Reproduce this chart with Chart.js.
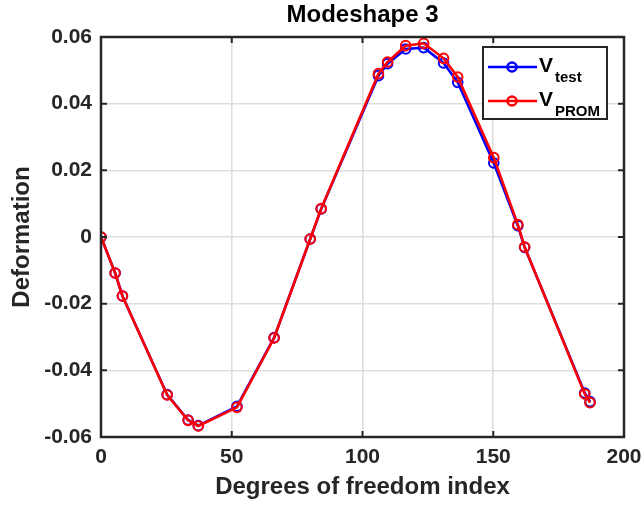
<!DOCTYPE html>
<html>
<head>
<meta charset="utf-8">
<script src="https://cdn.jsdelivr.net/npm/chart.js@4"></script>
<style>
  html, body { margin: 0; padding: 0; background: #fff; }
  #wrap { width: 644px; height: 511px; }
</style>
</head>
<body>
<div id="wrap"><canvas id="chart" width="644" height="511"></canvas></div>
<script>
// degrees of freedom index (x) and deformations
const dofIndex = [0, 5.4, 8.2, 25.3, 33.3, 37.2, 52, 66.2, 80, 84.2, 106.1, 109.6, 116.5, 123.4, 131, 136.4, 150.2, 159.4, 162, 185, 187];
const vTest = [0, -0.0108, -0.0177, -0.0473, -0.0549, -0.0566, -0.0508, -0.0302, -0.0006, 0.0084, 0.0484, 0.0520, 0.0564, 0.0568, 0.0522, 0.0464, 0.0222, 0.0034, -0.0031, -0.0468, -0.0494];
const vProm = [0, -0.0108, -0.0177, -0.0474, -0.0550, -0.0567, -0.0511, -0.0303, -0.0006, 0.0085, 0.0490, 0.0525, 0.0574, 0.0581, 0.0536, 0.0480, 0.0238, 0.0037, -0.0030, -0.0471, -0.0497];
const xTicks = [0, 50, 100, 150, 200];
const yTicks = [-0.06, -0.04, -0.02, 0, 0.02, 0.04, 0.06];
const yTickLabels = ['-0.06', '-0.04', '-0.02', '0', '0.02', '0.04', '0.06'];

const toPoints = ys => dofIndex.map((x, i) => ({ x: x, y: ys[i] }));
const FONT = 'Liberation Sans, Arial, sans-serif';
const TEXT = '#262626';

const matlabAxes = {
  id: 'matlabAxes',
  afterDraw(chart) {
    const ctx = chart.ctx;
    const a = chart.chartArea;
    const xs = chart.scales.x, ys = chart.scales.y;
    ctx.save();
    // inward ticks
    ctx.strokeStyle = TEXT;
    ctx.lineWidth = 2;
    ctx.beginPath();
    xTicks.forEach(v => {
      const px = xs.getPixelForValue(v);
      ctx.moveTo(px, a.bottom); ctx.lineTo(px, a.bottom - 6);
      ctx.moveTo(px, a.top); ctx.lineTo(px, a.top + 6);
    });
    yTicks.forEach(v => {
      const py = ys.getPixelForValue(v);
      ctx.moveTo(a.left, py); ctx.lineTo(a.left + 6, py);
      ctx.moveTo(a.right, py); ctx.lineTo(a.right - 6, py);
    });
    ctx.stroke();
    // box
    ctx.lineWidth = 2.5;
    ctx.strokeRect(a.left, a.top, a.right - a.left, a.bottom - a.top);

    // title and axis titles
    ctx.fillStyle = '#000';
    ctx.font = 'bold 24px ' + FONT;
    ctx.textAlign = 'center';
    ctx.textBaseline = 'middle';
    ctx.fillText('Modeshape 3', (a.left + a.right) / 2, 15);
    ctx.fillStyle = TEXT;
    ctx.fillText('Degrees of freedom index', (a.left + a.right) / 2, 487);
    ctx.save();
    ctx.translate(22, (a.top + a.bottom) / 2);
    ctx.rotate(-Math.PI / 2);
    ctx.fillText('Deformation', 0, 0);
    ctx.restore();

    // legend
    const lx = 483, ly = 47, lw = 124, lh = 72;
    ctx.fillStyle = '#fff';
    ctx.fillRect(lx, ly, lw, lh);
    ctx.strokeStyle = TEXT;
    ctx.lineWidth = 2;
    ctx.strokeRect(lx, ly, lw, lh);
    const items = [
      { color: '#0000ff', sub: 'test', y: 67 },
      { color: '#ff0000', sub: 'PROM', y: 101 }
    ];
    items.forEach(it => {
      ctx.strokeStyle = it.color;
      ctx.lineWidth = 2.5;
      ctx.beginPath();
      ctx.moveTo(488, it.y); ctx.lineTo(537, it.y);
      ctx.stroke();
      ctx.beginPath();
      ctx.arc(512, it.y, 4.5, 0, Math.PI * 2);
      ctx.stroke();
      ctx.fillStyle = '#000';
      ctx.textAlign = 'left';
      ctx.textBaseline = 'alphabetic';
      ctx.font = 'bold 21px ' + FONT;
      ctx.fillText('V', 539, it.y + 5);
      ctx.font = 'bold 15px ' + FONT;
      ctx.fillText(it.sub, 555, it.y + 15);
    });
    ctx.restore();
  }
};

new Chart(document.getElementById('chart').getContext('2d'), {
  type: 'scatter',
  data: {
    datasets: [
      {
        label: 'V_test',
        data: toPoints(vTest),
        showLine: true,
        borderColor: '#0000ff',
        backgroundColor: 'rgba(0,0,0,0)',
        borderWidth: 2.6,
        pointRadius: 4.8,
        pointBorderWidth: 2,
        pointBorderColor: '#0000ff',
        pointBackgroundColor: 'rgba(0,0,0,0)',
        order: 1
      },
      {
        label: 'V_PROM',
        data: toPoints(vProm),
        showLine: true,
        borderColor: '#ff0000',
        backgroundColor: 'rgba(0,0,0,0)',
        borderWidth: 2.6,
        pointRadius: 4.8,
        pointBorderWidth: 2,
        pointBorderColor: '#ff0000',
        pointBackgroundColor: 'rgba(0,0,0,0)',
        order: 0
      }
    ]
  },
  options: {
    responsive: false,
    animation: false,
    layout: { padding: { top: 37, right: 20, left: 0, bottom: 0 } },
    plugins: {
      legend: { display: false },
      tooltip: { enabled: false },
      title: { display: false }
    },
    scales: {
      x: {
        type: 'linear',
        min: 0, max: 200,
        afterBuildTicks: s => { s.ticks = xTicks.map(v => ({ value: v })); },
        afterFit: s => { s.height = 74; s.paddingRight = 0; s.paddingLeft = 0; },
        grid: { color: '#dedede', lineWidth: 1.6, drawTicks: false },
        border: { display: false },
        ticks: {
          color: TEXT,
          font: { family: FONT, size: 21, weight: 'bold' },
          padding: 8,
          maxRotation: 0
        }
      },
      y: {
        type: 'linear',
        min: -0.06, max: 0.06,
        afterBuildTicks: s => { s.ticks = yTicks.map(v => ({ value: v })); },
        afterFit: s => { s.width = 101; s.paddingTop = 0; s.paddingBottom = 0; },
        grid: { color: '#dedede', lineWidth: 1.6, drawTicks: false },
        border: { display: false },
        ticks: {
          color: TEXT,
          font: { family: FONT, size: 21, weight: 'bold' },
          padding: 9,
          callback: (v, i) => yTickLabels[i]
        }
      }
    }
  },
  plugins: [matlabAxes]
});
</script>
</body>
</html>
